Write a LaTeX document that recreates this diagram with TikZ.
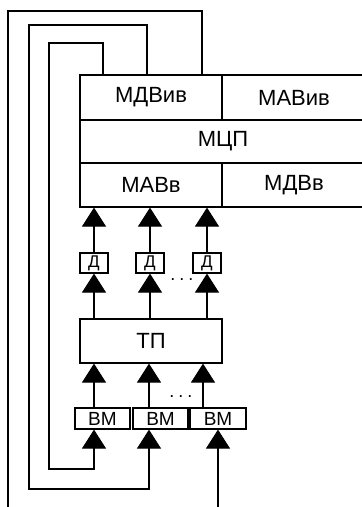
\documentclass[tikz,border=0pt]{standalone}
\usepackage{fontspec}
\setmainfont{Liberation Sans}
\usetikzlibrary{arrows.meta,calc}
\begin{document}
\begin{tikzpicture}[x=1pt,y=-1pt,line width=1.2pt,
  cell/.style={draw,rectangle,inner sep=0pt,font=\fontsize{22}{25}\selectfont},
  dbox/.style={draw,rectangle,inner sep=0pt,minimum width=28pt,minimum height=20pt,font=\fontsize{17}{17}\selectfont},
  vmbox/.style={draw,rectangle,inner sep=0pt,minimum height=21pt,font=\fontsize{19}{19}\selectfont},
  dotsnode/.style={inner sep=0pt,font=\fontsize{18}{18}\selectfont},
  arr/.style={-{Triangle[width=24pt,length=19pt]}}]
\useasboundingbox (0,0) rectangle (362,507);
% main block
\node[cell,minimum width=142pt,minimum height=45pt] (mdviv) at (151,97.5) {МДВив};
\node[cell,minimum width=144pt,minimum height=45pt] (maviv) at (294,97.5) {МАВив};
\node[cell,minimum width=286pt,minimum height=43pt] (mcp) at (223,141.5) {МЦП};
\node[cell,minimum width=142pt,minimum height=44pt] (mavv) at (151,185) {МАВв};
\node[cell,minimum width=144pt,minimum height=44pt] (mdvv) at (294,185) {МДВв};
% D boxes
\node[dbox] (d1) at (94,263) {Д};
\node[dbox] (d2) at (150,263) {Д};
\node[dbox] (d3) at (207,263) {Д};
\node[dotsnode] (dots1) at (182,280) {.\hspace{4pt}.\hspace{4pt}.};
% TP
\node[cell,minimum width=142pt,minimum height=44pt] (tp) at (151,341) {ТП};
% VM
\node[vmbox,minimum width=55pt] (vm1) at (102.5,418.5) {ВМ};
\node[vmbox,minimum width=55pt] (vm2) at (160.5,418.5) {ВМ};
\node[vmbox,minimum width=56pt] (vm3) at (218,418.5) {ВМ};
\node[dotsnode] (dots2) at (181,397) {.\hspace{4pt}.\hspace{4pt}.};
% column coordinates
\coordinate (b1) at (94,0);
\coordinate (b2) at (149,0);
\coordinate (b3) at (203,0);
% arrows D -> MAVv, TP -> D
\foreach \d in {d1,d2,d3}{
  \draw[arr] (\d.north) -- (mavv.south -| \d);
  \draw[arr] (tp.north -| \d) -- (\d.south);
}
% arrows VM -> TP
\draw[arr] (vm1.north -| b1) -- (tp.south -| b1);
\draw[arr] (vm2.north -| b2) -- (tp.south -| b2);
\draw[arr] (vm3.north -| b3) -- (tp.south -| b3);
% feedback loops
\coordinate (r1) at (103,43);
\coordinate (r2) at (147,25);
\coordinate (r3) at (202,11);
\coordinate (q1) at (49,469);
\coordinate (q2) at (29,489);
\coordinate (q3) at (8,507);
\coordinate (q4) at (218,507);
\draw[arr] (mdviv.north -| r1) -- (r1) -| (q1) -| (vm1.south -| b1);
\draw[arr] (mdviv.north -| r2) -- (r2) -| (q2) -| (vm2.south -| b2);
\draw (mdviv.north -| r3) -- (r3) -| (q3);
\draw[arr] (q4) -- (vm3.south);
\end{tikzpicture}
\end{document}
